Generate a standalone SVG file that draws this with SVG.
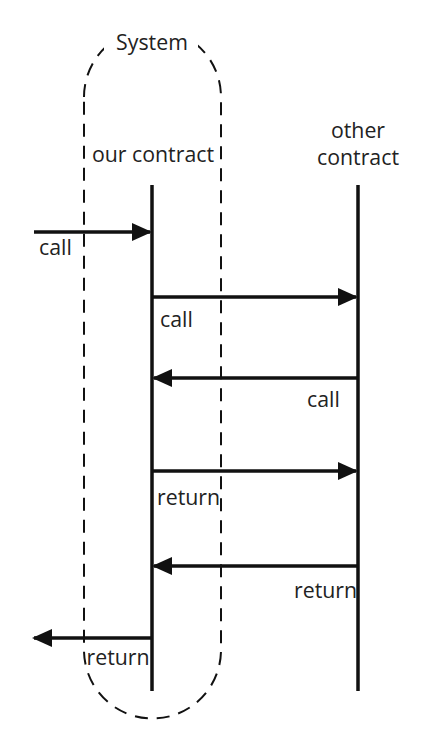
<svg xmlns="http://www.w3.org/2000/svg" width="437" height="749" viewBox="0 0 437 749">
<style>
text{font-family:"Open Sans","Liberation Sans",Arial,sans-serif;font-size:21.3px;fill:#222}
.life{stroke:#111;stroke-width:3.5}
.msg{stroke:#111;stroke-width:3.5;fill:none}
.bound{stroke:#111;stroke-width:2;fill:none;stroke-dasharray:13 9}
</style>
<defs>
<marker id="ah" markerWidth="20" markerHeight="18" refX="18" refY="9" orient="auto" markerUnits="userSpaceOnUse">
<path d="M0,0 L20,9 L0,18 Z" fill="#111"/>
</marker>
</defs>
<g id="system">
<path class="bound" d="M84,97 A68.5,68.5 0 0 1 221,97 L221,650 A68.5,68.5 0 0 1 84,650 Z"/>
<rect x="104" y="18" width="94" height="37" fill="#fff"/>
<text x="152" y="50" text-anchor="middle">System</text>
</g>
<g id="our-contract">
<text x="153" y="162" text-anchor="middle">our contract</text>
<line class="life" x1="152" y1="185" x2="152" y2="691"/>
</g>
<g id="other-contract">
<text x="358" y="138" text-anchor="middle">other</text>
<text x="358" y="165" text-anchor="middle">contract</text>
<line class="life" x1="358" y1="185" x2="358" y2="691"/>
</g>
<g id="connectors">
<line class="msg" x1="34" y1="232" x2="150" y2="232" marker-end="url(#ah)"/>
<text x="39" y="255">call</text>
<line class="msg" x1="152" y1="297" x2="356" y2="297" marker-end="url(#ah)"/>
<text x="160" y="327">call</text>
<line class="msg" x1="358" y1="378" x2="154" y2="378" marker-end="url(#ah)"/>
<text x="307" y="407">call</text>
<line class="msg" x1="152" y1="471" x2="356" y2="471" marker-end="url(#ah)"/>
<text x="157" y="505">return</text>
<line class="msg" x1="358" y1="566" x2="154" y2="566" marker-end="url(#ah)"/>
<text x="294" y="598">return</text>
<line class="msg" x1="152" y1="638" x2="34" y2="638" marker-end="url(#ah)"/>
<text x="86.5" y="665">return</text>
</g>
</svg>
